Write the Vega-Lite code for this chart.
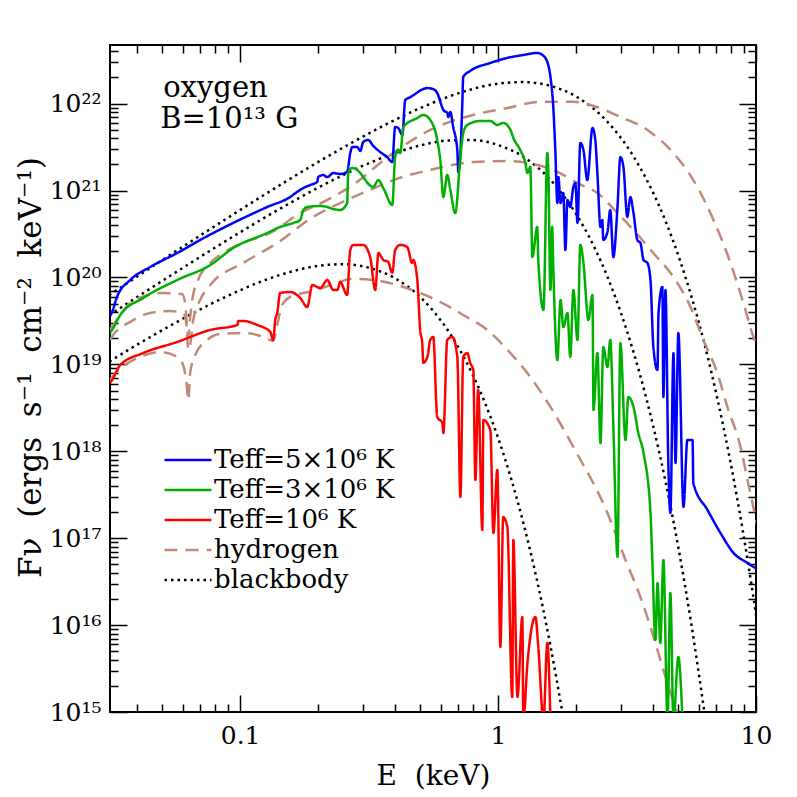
{
"$schema":"https://vega.github.io/schema/vega-lite/v6.json",
"width":646,"height":667,
"autosize":{"type":"none"},
"padding":{"left":110,"top":45,"right":41,"bottom":85},
"background":"white",
"config":{"view":{"stroke":"black","strokeWidth":2},"font":"DejaVu Serif",
 "legend":{"symbolType":"M-2.35,0H2.35","symbolSize":400,"symbolOffset":12,"labelOffset":13,"rowPadding":4,"symbolStrokeWidth":2.5,"labelFont":"DejaVu Serif","labelFontSize":26,"labelColor":"black","padding":0,"labelLimit":400}},
"datasets":{
"names":[{"c":"O5","s":"Teff=5×10⁶ K"},{"c":"O3","s":"Teff=3×10⁶ K"},{"c":"O1","s":"Teff=10⁶ K"},{"c":"H5","s":"hydrogen"},{"c":"H3","s":"hydrogen"},{"c":"H1","s":"hydrogen"},{"c":"B5","s":"blackbody"},{"c":"B3","s":"blackbody"},{"c":"B1","s":"blackbody"}],
"notes":[{"E":0.0503,"F":1.19e22,"t":"oxygen"},{"E":0.049,"F":5.25e21,"t":"B=10¹³ G"}],
"frame":[{"E":1,"F":1e18}],
"curves":[
{"c":"B5","E":0.02818,"F":5.18e19},{"c":"B5","E":0.03162,"F":6.49e19},{"c":"B5","E":0.03981,"F":1.02e20},{"c":"B5","E":0.05012,"F":1.60e20},{"c":"B5","E":0.0631,"F":2.49e20},{"c":"B5","E":0.07943,"F":3.86e20},{"c":"B5","E":0.1,"F":5.98e20},{"c":"B5","E":0.1259,"F":9.18e20},{"c":"B5","E":0.1585,"F":1.40e21},{"c":"B5","E":0.1995,"F":2.11e21},{"c":"B5","E":0.2512,"F":3.13e21},{"c":"B5","E":0.3162,"F":4.56e21},{"c":"B5","E":0.3981,"F":6.49e21},{"c":"B5","E":0.5012,"F":8.93e21},{"c":"B5","E":0.631,"F":1.18e22},{"c":"B5","E":0.7943,"F":1.47e22},{"c":"B5","E":1.0,"F":1.70e22},{"c":"B5","E":1.259,"F":1.77e22},{"c":"B5","E":1.585,"F":1.61e22},{"c":"B5","E":1.995,"F":1.22e22},{"c":"B5","E":2.512,"F":7.31e21},{"c":"B5","E":2.818,"F":5.06e21},{"c":"B5","E":3.162,"F":3.22e21},{"c":"B5","E":3.548,"F":1.85e21},{"c":"B5","E":3.981,"F":9.62e20},{"c":"B5","E":4.467,"F":4.40e20},{"c":"B5","E":5.012,"F":1.75e20},{"c":"B5","E":5.623,"F":5.98e19},{"c":"B5","E":6.31,"F":1.73e19},{"c":"B5","E":7.079,"F":4.07e18},{"c":"B5","E":7.943,"F":7.78e17},{"c":"B5","E":8.913,"F":1.16e17},{"c":"B5","E":10.0,"F":1.32e16},{"c":"B5","E":11.22,"F":1.10e15},
{"c":"B3","E":0.02818,"F":3.04e19},{"c":"B3","E":0.03162,"F":3.80e19},{"c":"B3","E":0.03981,"F":5.93e19},{"c":"B3","E":0.05012,"F":9.20e19},{"c":"B3","E":0.0631,"F":1.42e20},{"c":"B3","E":0.07943,"F":2.18e20},{"c":"B3","E":0.1,"F":3.31e20},{"c":"B3","E":0.1259,"F":4.98e20},{"c":"B3","E":0.1585,"F":7.36e20},{"c":"B3","E":0.1995,"F":1.07e21},{"c":"B3","E":0.2512,"F":1.51e21},{"c":"B3","E":0.3162,"F":2.07e21},{"c":"B3","E":0.3981,"F":2.70e21},{"c":"B3","E":0.5012,"F":3.31e21},{"c":"B3","E":0.631,"F":3.75e21},{"c":"B3","E":0.7943,"F":3.81e21},{"c":"B3","E":1.0,"F":3.34e21},{"c":"B3","E":1.259,"F":2.42e21},{"c":"B3","E":1.585,"F":1.36e21},{"c":"B3","E":1.778,"F":9.07e20},{"c":"B3","E":1.995,"F":5.53e20},{"c":"B3","E":2.239,"F":3.05e20},{"c":"B3","E":2.512,"F":1.50e20},{"c":"B3","E":2.818,"F":6.46e19},{"c":"B3","E":3.162,"F":2.41e19},{"c":"B3","E":3.548,"F":7.66e18},{"c":"B3","E":3.981,"F":2.03e18},{"c":"B3","E":4.467,"F":4.37e17},{"c":"B3","E":5.012,"F":7.50e16},{"c":"B3","E":5.623,"F":9.93e15},{"c":"B3","E":6.31,"F":9.89e14},
{"c":"B1","E":0.02818,"F":9.04e18},{"c":"B1","E":0.03162,"F":1.11e19},{"c":"B1","E":0.03981,"F":1.68e19},{"c":"B1","E":0.05012,"F":2.49e19},{"c":"B1","E":0.0631,"F":3.64e19},{"c":"B1","E":0.07943,"F":5.18e19},{"c":"B1","E":0.1,"F":7.13e19},{"c":"B1","E":0.1259,"F":9.42e19},{"c":"B1","E":0.1585,"F":1.17e20},{"c":"B1","E":0.1995,"F":1.36e20},{"c":"B1","E":0.2512,"F":1.42e20},{"c":"B1","E":0.3162,"F":1.29e20},{"c":"B1","E":0.3981,"F":9.82e19},{"c":"B1","E":0.5012,"F":5.89e19},{"c":"B1","E":0.5623,"F":4.07e19},{"c":"B1","E":0.631,"F":2.60e19},{"c":"B1","E":0.7079,"F":1.50e19},{"c":"B1","E":0.7943,"F":7.80e18},{"c":"B1","E":0.8913,"F":3.57e18},{"c":"B1","E":1.0,"F":1.43e18},{"c":"B1","E":1.122,"F":4.90e17},{"c":"B1","E":1.259,"F":1.42e17},{"c":"B1","E":1.413,"F":3.37e16},{"c":"B1","E":1.585,"F":6.44e15},{"c":"B1","E":1.778,"F":9.66e14},
{"c":"H5","E":0.0313,"F":2.49e19},{"c":"H5","E":0.0343,"F":3.70e19},{"c":"H5","E":0.0375,"F":5.08e19},{"c":"H5","E":0.0428,"F":6.12e19},{"c":"H5","E":0.0504,"F":6.62e19},{"c":"H5","E":0.0596,"F":6.46e19},{"c":"H5","E":0.0612,"F":5.08e19},{"c":"H5","E":0.0624,"F":2.49e19},{"c":"H5","E":0.0630,"F":2.07e19},{"c":"H5","E":0.0640,"F":3.42e19},{"c":"H5","E":0.0652,"F":5.51e19},{"c":"H5","E":0.0687,"F":9.35e19},{"c":"H5","E":0.0766,"F":1.47e20},{"c":"H5","E":0.0837,"F":1.82e20},{"c":"H5","E":0.100,"F":2.43e20},{"c":"H5","E":0.1309,"F":3.25e20},{"c":"H5","E":0.1710,"F":5.52e20},{"c":"H5","E":0.2178,"F":7.80e20},{"c":"H5","E":0.2844,"F":1.26e21},{"c":"H5","E":0.3491,"F":2.08e21},{"c":"H5","E":0.4178,"F":3.09e21},{"c":"H5","E":0.5458,"F":4.98e21},{"c":"H5","E":0.8017,"F":7.41e21},{"c":"H5","E":1.086,"F":8.91e21},{"c":"H5","E":1.459,"F":1.05e22},{"c":"H5","E":1.959,"F":1.05e22},{"c":"H5","E":2.280,"F":9.67e21},{"c":"H5","E":2.979,"F":7.03e21},{"c":"H5","E":3.793,"F":4.98e21},{"c":"H5","E":4.786,"F":2.70e21},{"c":"H5","E":5.715,"F":1.32e21},{"c":"H5","E":6.839,"F":4.59e20},{"c":"H5","E":7.962,"F":1.47e20},{"c":"H5","E":8.933,"F":5.08e19},{"c":"H5","E":9.772,"F":2.07e19},{"c":"H5","E":10.4,"F":1.28e19},
{"c":"H3","E":0.0313,"F":1.91e19},{"c":"H3","E":0.0322,"F":2.18e19},{"c":"H3","E":0.0375,"F":3.08e19},{"c":"H3","E":0.0448,"F":3.90e19},{"c":"H3","E":0.0536,"F":4.11e19},{"c":"H3","E":0.0601,"F":3.90e19},{"c":"H3","E":0.0618,"F":3.08e19},{"c":"H3","E":0.0630,"F":1.47e19},{"c":"H3","E":0.0640,"F":1.67e19},{"c":"H3","E":0.0658,"F":3.24e19},{"c":"H3","E":0.0700,"F":5.51e19},{"c":"H3","E":0.0766,"F":8.19e19},{"c":"H3","E":0.1028,"F":1.47e20},{"c":"H3","E":0.1393,"F":2.49e20},{"c":"H3","E":0.1919,"F":4.97e20},{"c":"H3","E":0.2443,"F":7.19e20},{"c":"H3","E":0.3192,"F":1.02e21},{"c":"H3","E":0.3926,"F":1.32e21},{"c":"H3","E":0.5458,"F":1.73e21},{"c":"H3","E":0.8017,"F":2.13e21},{"c":"H3","E":1.086,"F":2.19e21},{"c":"H3","E":1.300,"F":2.08e21},{"c":"H3","E":1.698,"F":1.64e21},{"c":"H3","E":2.032,"F":1.22e21},{"c":"H3","E":2.427,"F":9.38e20},{"c":"H3","E":2.904,"F":5.52e20},{"c":"H3","E":3.350,"F":3.52e20},{"c":"H3","E":4.000,"F":1.91e20},{"c":"H3","E":4.786,"F":1.01e20},{"c":"H3","E":5.572,"F":4.57e19},{"c":"H3","E":6.252,"F":1.91e19},{"c":"H3","E":7.079,"F":7.96e18},{"c":"H3","E":7.745,"F":3.24e18},{"c":"H3","E":8.710,"F":1.12e18},{"c":"H3","E":9.268,"F":4.68e17},{"c":"H3","E":10.14,"F":1.35e17},
{"c":"H1","E":0.0313,"F":6.61e18},{"c":"H1","E":0.0319,"F":7.16e18},{"c":"H1","E":0.0358,"F":9.84e18},{"c":"H1","E":0.0409,"F":1.22e19},{"c":"H1","E":0.0490,"F":1.39e19},{"c":"H1","E":0.0570,"F":1.22e19},{"c":"H1","E":0.0601,"F":9.84e18},{"c":"H1","E":0.0618,"F":6.61e18},{"c":"H1","E":0.0630,"F":3.89e18},{"c":"H1","E":0.0640,"F":7.96e18},{"c":"H1","E":0.0670,"F":1.28e19},{"c":"H1","E":0.0745,"F":1.91e19},{"c":"H1","E":0.0837,"F":2.24e19},{"c":"H1","E":0.1028,"F":2.30e19},{"c":"H1","E":0.1164,"F":2.18e19},{"c":"H1","E":0.1309,"F":1.91e19},{"c":"H1","E":0.1343,"F":1.86e19},{"c":"H1","E":0.1393,"F":2.84e19},{"c":"H1","E":0.1455,"F":4.82e19},{"c":"H1","E":0.1563,"F":5.96e19},{"c":"H1","E":0.1919,"F":7.00e19},{"c":"H1","E":0.2382,"F":8.65e19},{"c":"H1","E":0.2673,"F":9.62e19},{"c":"H1","E":0.3281,"F":9.35e19},{"c":"H1","E":0.4064,"F":8.19e19},{"c":"H1","E":0.4864,"F":6.81e19},{"c":"H1","E":0.5970,"F":5.22e19},{"c":"H1","E":0.7328,"F":3.70e19},{"c":"H1","E":0.9078,"F":2.49e19},{"c":"H1","E":1.117,"F":1.35e19},{"c":"H1","E":1.334,"F":7.16e18},{"c":"H1","E":1.596,"F":3.24e18},{"c":"H1","E":1.875,"F":1.42e18},{"c":"H1","E":1.959,"F":1.12e18},{"c":"H1","E":2.655,"F":1.95e17},{"c":"H1","E":3.119,"F":5.61e16},{"c":"H1","E":3.565,"F":2.10e16},{"c":"H1","E":3.899,"F":9.51e15},{"c":"H1","E":4.375,"F":3.04e15},{"c":"H1","E":4.920,"F":1.0e15},{"c":"H1","E":5.093,"F":7.1e14},
{"c":"O5","E":0.0313,"F":3.61e19},{"c":"O5","E":0.0319,"F":4.01e19},{"c":"O5","E":0.0333,"F":5.96e19},{"c":"O5","E":0.0375,"F":9.35e19},{"c":"O5","E":0.0448,"F":1.32e20},{"c":"O5","E":0.0570,"F":1.91e20},{"c":"O5","E":0.0700,"F":2.70e20},{"c":"O5","E":0.0940,"F":4.24e20},{"c":"O5","E":0.1274,"F":6.47e20},{"c":"O5","E":0.1563,"F":8.43e20},{"c":"O5","E":0.1663,"F":9.64e20},{"c":"O5","E":0.1758,"F":1.07e21},{"c":"O5","E":0.1871,"F":1.16e21},{"c":"O5","E":0.1991,"F":1.26e21},{"c":"O5","E":0.2009,"F":1.43e21},{"c":"O5","E":0.2099,"F":1.51e21},{"c":"O5","E":0.2178,"F":1.43e21},{"c":"O5","E":0.2296,"F":1.59e21},{"c":"O5","E":0.2443,"F":1.55e21},{"c":"O5","E":0.2600,"F":1.64e21},{"c":"O5","E":0.2673,"F":2.70e21},{"c":"O5","E":0.2723,"F":3.17e21},{"c":"O5","E":0.2844,"F":3.17e21},{"c":"O5","E":0.2924,"F":2.85e21},{"c":"O5","E":0.2999,"F":3.62e21},{"c":"O5","E":0.3141,"F":3.82e21},{"c":"O5","E":0.3281,"F":3.26e21},{"c":"O5","E":0.3491,"F":2.78e21},{"c":"O5","E":0.3715,"F":2.43e21},{"c":"O5","E":0.3890,"F":2.13e21},{"c":"O5","E":0.3990,"F":5.40e21},{"c":"O5","E":0.4102,"F":5.25e21},{"c":"O5","E":0.4256,"F":4.36e21},{"c":"O5","E":0.4365,"F":1.10e22},{"c":"O5","E":0.4571,"F":1.19e22},{"c":"O5","E":0.5321,"F":1.51e22},{"c":"O5","E":0.5610,"F":1.47e22},{"c":"O5","E":0.5808,"F":1.33e22},{"c":"O5","E":0.6138,"F":8.45e21},{"c":"O5","E":0.6353,"F":7.82e21},{"c":"O5","E":0.6412,"F":7.03e21},{"c":"O5","E":0.6531,"F":8.02e21},{"c":"O5","E":0.6699,"F":5.40e21},{"c":"O5","E":0.6950,"F":2.93e21},{"c":"O5","E":0.7015,"F":1.64e21},{"c":"O5","E":0.7145,"F":2.70e21},{"c":"O5","E":0.7261,"F":9.16e21},{"c":"O5","E":0.7328,"F":2.03e22},{"c":"O5","E":0.7798,"F":2.38e22},{"c":"O5","E":0.9333,"F":2.94e22},{"c":"O5","E":1.086,"F":3.36e22},{"c":"O5","E":1.253,"F":3.63e22},{"c":"O5","E":1.419,"F":3.83e22},{"c":"O5","E":1.486,"F":3.63e22},{"c":"O5","E":1.552,"F":3.02e22},{"c":"O5","E":1.596,"F":2.03e22},{"c":"O5","E":1.637,"F":9.16e21},{"c":"O5","E":1.667,"F":2.93e21},{"c":"O5","E":1.698,"F":7.19e20},{"c":"O5","E":1.714,"F":1.43e21},{"c":"O5","E":1.746,"F":7.19e20},{"c":"O5","E":1.791,"F":9.38e20},{"c":"O5","E":1.824,"F":2.07e20},{"c":"O5","E":1.858,"F":7.80e20},{"c":"O5","E":1.905,"F":6.47e20},{"c":"O5","E":1.959,"F":1.10e21},{"c":"O5","E":1.995,"F":1.22e21},{"c":"O5","E":2.032,"F":4.24e20},{"c":"O5","E":2.084,"F":3.52e21},{"c":"O5","E":2.143,"F":2.93e21},{"c":"O5","E":2.218,"F":1.32e21},{"c":"O5","E":2.323,"F":5.25e21},{"c":"O5","E":2.382,"F":3.82e21},{"c":"O5","E":2.427,"F":1.59e21},{"c":"O5","E":2.495,"F":3.81e20},{"c":"O5","E":2.535,"F":4.59e20},{"c":"O5","E":2.559,"F":2.70e20},{"c":"O5","E":2.655,"F":3.34e20},{"c":"O5","E":2.723,"F":5.98e20},{"c":"O5","E":2.799,"F":1.72e20},{"c":"O5","E":2.904,"F":6.47e20},{"c":"O5","E":2.979,"F":2.43e21},{"c":"O5","E":3.062,"F":1.87e21},{"c":"O5","E":3.170,"F":4.97e20},{"c":"O5","E":3.258,"F":8.43e20},{"c":"O5","E":3.350,"F":5.52e20},{"c":"O5","E":3.467,"F":2.70e20},{"c":"O5","E":3.565,"F":2.49e20},{"c":"O5","E":3.664,"F":1.59e20},{"c":"O5","E":3.793,"F":1.47e20},{"c":"O5","E":3.899,"F":9.35e19},{"c":"O5","E":4.000,"F":1.58e19},{"c":"O5","E":4.150,"F":8.61e18},{"c":"O5","E":4.188,"F":3.90e19},{"c":"O5","E":4.335,"F":7.78e19},{"c":"O5","E":4.375,"F":4.22e18},{"c":"O5","E":4.457,"F":7.18e19},{"c":"O5","E":4.571,"F":7.33e17},{"c":"O5","E":4.656,"F":1.95e17},{"c":"O5","E":4.786,"F":1.35e19},{"c":"O5","E":4.875,"F":7.33e17},{"c":"O5","E":5.000,"F":2.30e19},{"c":"O5","E":5.236,"F":2.29e17},{"c":"O5","E":5.420,"F":1.35e18},{"c":"O5","E":5.675,"F":1.35e18},{"c":"O5","E":5.715,"F":4.31e17},{"c":"O5","E":6.486,"F":2.11e17},{"c":"O5","E":7.278,"F":1.15e17},{"c":"O5","E":8.185,"F":6.76e16},{"c":"O5","E":9.268,"F":5.19e16},{"c":"O5","E":9.954,"F":4.54e16},{"c":"O5","E":10.4,"F":4.31e16},
{"c":"O3","E":0.0313,"F":2.30e19},{"c":"O3","E":0.0319,"F":2.49e19},{"c":"O3","E":0.0343,"F":3.70e19},{"c":"O3","E":0.0421,"F":5.81e19},{"c":"O3","E":0.0570,"F":9.35e19},{"c":"O3","E":0.0766,"F":1.39e20},{"c":"O3","E":0.0940,"F":2.18e20},{"c":"O3","E":0.1274,"F":3.25e20},{"c":"O3","E":0.1429,"F":3.81e20},{"c":"O3","E":0.1607,"F":4.24e20},{"c":"O3","E":0.1710,"F":4.59e20},{"c":"O3","E":0.1758,"F":5.98e20},{"c":"O3","E":0.1820,"F":6.47e20},{"c":"O3","E":0.2046,"F":6.64e20},{"c":"O3","E":0.2178,"F":6.47e20},{"c":"O3","E":0.2296,"F":6.14e20},{"c":"O3","E":0.2443,"F":5.98e20},{"c":"O3","E":0.2600,"F":7.19e20},{"c":"O3","E":0.2624,"F":1.59e21},{"c":"O3","E":0.2723,"F":1.82e21},{"c":"O3","E":0.2924,"F":1.59e21},{"c":"O3","E":0.2999,"F":1.43e21},{"c":"O3","E":0.3281,"F":1.10e21},{"c":"O3","E":0.3436,"F":1.32e21},{"c":"O3","E":0.3589,"F":1.07e21},{"c":"O3","E":0.3890,"F":6.82e20},{"c":"O3","E":0.3990,"F":2.43e21},{"c":"O3","E":0.4102,"F":2.93e21},{"c":"O3","E":0.4178,"F":2.70e21},{"c":"O3","E":0.4295,"F":5.40e21},{"c":"O3","E":0.4864,"F":6.84e21},{"c":"O3","E":0.5129,"F":7.41e21},{"c":"O3","E":0.5458,"F":6.49e21},{"c":"O3","E":0.5808,"F":3.82e21},{"c":"O3","E":0.5970,"F":2.25e21},{"c":"O3","E":0.6138,"F":8.43e20},{"c":"O3","E":0.6353,"F":1.51e21},{"c":"O3","E":0.6531,"F":1.02e21},{"c":"O3","E":0.6823,"F":5.52e20},{"c":"O3","E":0.7145,"F":2.43e21},{"c":"O3","E":0.7328,"F":4.60e21},{"c":"O3","E":0.7603,"F":5.69e21},{"c":"O3","E":0.8531,"F":6.32e21},{"c":"O3","E":0.9333,"F":6.32e21},{"c":"O3","E":0.9931,"F":5.69e21},{"c":"O3","E":1.047,"F":6.00e21},{"c":"O3","E":1.117,"F":4.98e21},{"c":"O3","E":1.146,"F":4.03e21},{"c":"O3","E":1.219,"F":2.93e21},{"c":"O3","E":1.276,"F":2.08e21},{"c":"O3","E":1.300,"F":1.59e21},{"c":"O3","E":1.334,"F":1.87e21},{"c":"O3","E":1.358,"F":1.72e20},{"c":"O3","E":1.419,"F":3.81e20},{"c":"O3","E":1.432,"F":1.59e20},{"c":"O3","E":1.500,"F":4.23e19},{"c":"O3","E":1.552,"F":2.70e21},{"c":"O3","E":1.567,"F":1.59e21},{"c":"O3","E":1.596,"F":7.18e19},{"c":"O3","E":1.622,"F":3.81e20},{"c":"O3","E":1.637,"F":1.32e20},{"c":"O3","E":1.698,"F":1.12e19},{"c":"O3","E":1.746,"F":5.51e19},{"c":"O3","E":1.791,"F":2.69e19},{"c":"O3","E":1.858,"F":3.90e19},{"c":"O3","E":1.905,"F":1.22e19},{"c":"O3","E":1.959,"F":7.18e19},{"c":"O3","E":2.032,"F":1.91e19},{"c":"O3","E":2.084,"F":2.37e20},{"c":"O3","E":2.143,"F":1.47e20},{"c":"O3","E":2.239,"F":3.24e19},{"c":"O3","E":2.323,"F":6.28e19},{"c":"O3","E":2.344,"F":2.99e18},{"c":"O3","E":2.427,"F":1.35e19},{"c":"O3","E":2.495,"F":1.24e18},{"c":"O3","E":2.559,"F":1.58e19},{"c":"O3","E":2.655,"F":9.33e18},{"c":"O3","E":2.723,"F":1.91e19},{"c":"O3","E":2.799,"F":1.91e18},{"c":"O3","E":2.904,"F":6.08e16},{"c":"O3","E":2.979,"F":1.76e19},{"c":"O3","E":3.119,"F":1.35e18},{"c":"O3","E":3.199,"F":4.22e18},{"c":"O3","E":3.350,"F":3.24e18},{"c":"O3","E":3.499,"F":1.62e18},{"c":"O3","E":3.664,"F":9.55e17},{"c":"O3","E":3.899,"F":1.95e17},{"c":"O3","E":3.963,"F":5.61e16},{"c":"O3","E":4.074,"F":6.73e15},{"c":"O3","E":4.150,"F":3.05e16},{"c":"O3","E":4.256,"F":6.22e15},{"c":"O3","E":4.375,"F":5.61e16},{"c":"O3","E":4.539,"F":8e14},{"c":"O3","E":4.656,"F":2.34e16},{"c":"O3","E":4.786,"F":8e14},{"c":"O3","E":5.000,"F":4.30e15},{"c":"O3","E":5.188,"F":8e14},
{"c":"O1","E":0.0313,"F":6.11e18},{"c":"O1","E":0.0319,"F":6.61e18},{"c":"O1","E":0.0343,"F":9.84e18},{"c":"O1","E":0.0421,"F":1.35e19},{"c":"O1","E":0.0570,"F":1.81e19},{"c":"O1","E":0.0766,"F":2.49e19},{"c":"O1","E":0.0975,"F":2.84e19},{"c":"O1","E":0.0984,"F":3.16e19},{"c":"O1","E":0.1028,"F":3.16e19},{"c":"O1","E":0.1164,"F":2.84e19},{"c":"O1","E":0.1309,"F":2.36e19},{"c":"O1","E":0.1343,"F":1.91e19},{"c":"O1","E":0.1368,"F":3.24e19},{"c":"O1","E":0.1393,"F":3.90e19},{"c":"O1","E":0.1429,"F":6.62e19},{"c":"O1","E":0.1563,"F":6.81e19},{"c":"O1","E":0.1710,"F":5.81e19},{"c":"O1","E":0.1820,"F":4.57e19},{"c":"O1","E":0.1905,"F":8.19e19},{"c":"O1","E":0.2046,"F":7.57e19},{"c":"O1","E":0.2178,"F":9.35e19},{"c":"O1","E":0.2296,"F":7.18e19},{"c":"O1","E":0.2382,"F":7.18e19},{"c":"O1","E":0.2443,"F":8.87e19},{"c":"O1","E":0.2600,"F":6.28e19},{"c":"O1","E":0.2673,"F":2.07e20},{"c":"O1","E":0.2748,"F":2.37e20},{"c":"O1","E":0.2999,"F":2.37e20},{"c":"O1","E":0.3192,"F":1.72e20},{"c":"O1","E":0.3342,"F":7.18e19},{"c":"O1","E":0.3436,"F":1.91e20},{"c":"O1","E":0.3589,"F":1.59e20},{"c":"O1","E":0.3750,"F":1.51e20},{"c":"O1","E":0.3890,"F":1.13e20},{"c":"O1","E":0.3990,"F":2.07e20},{"c":"O1","E":0.4178,"F":2.37e20},{"c":"O1","E":0.4446,"F":2.24e20},{"c":"O1","E":0.4645,"F":1.47e20},{"c":"O1","E":0.4688,"F":1.59e20},{"c":"O1","E":0.4864,"F":9.35e19},{"c":"O1","E":0.4909,"F":5.96e19},{"c":"O1","E":0.4989,"F":2.49e19},{"c":"O1","E":0.5082,"F":1.76e19},{"c":"O1","E":0.5129,"F":1.04e19},{"c":"O1","E":0.5321,"F":1.22e19},{"c":"O1","E":0.5458,"F":1.91e19},{"c":"O1","E":0.5610,"F":2.07e19},{"c":"O1","E":0.5808,"F":2.48e18},{"c":"O1","E":0.6081,"F":2.12e18},{"c":"O1","E":0.6138,"F":1.62e18},{"c":"O1","E":0.6353,"F":1.91e19},{"c":"O1","E":0.6653,"F":2.07e19},{"c":"O1","E":0.6950,"F":1.22e19},{"c":"O1","E":0.7145,"F":2.98e17},{"c":"O1","E":0.7328,"F":1.22e19},{"c":"O1","E":0.7603,"F":1.35e19},{"c":"O1","E":0.7798,"F":1.04e19},{"c":"O1","E":0.8017,"F":8.61e18},{"c":"O1","E":0.8166,"F":4.68e17},{"c":"O1","E":0.8375,"F":5.07e18},{"c":"O1","E":0.8690,"F":1.24e17},{"c":"O1","E":0.8770,"F":2.29e18},{"c":"O1","E":0.9333,"F":1.76e18},{"c":"O1","E":0.9594,"F":1.15e17},{"c":"O1","E":0.9931,"F":6.10e17},{"c":"O1","E":1.021,"F":5.60e15},{"c":"O1","E":1.047,"F":1.75e17},{"c":"O1","E":1.086,"F":1.35e17},{"c":"O1","E":1.135,"F":1.49e15},{"c":"O1","E":1.146,"F":9.53e16},{"c":"O1","E":1.189,"F":1.49e15},{"c":"O1","E":1.242,"F":1.24e16},{"c":"O1","E":1.253,"F":8e14},{"c":"O1","E":1.300,"F":3.66e15},{"c":"O1","E":1.396,"F":1.24e16},{"c":"O1","E":1.432,"F":5.60e15},{"c":"O1","E":1.500,"F":8e14},{"c":"O1","E":1.552,"F":6.22e15},{"c":"O1","E":1.596,"F":8e14}
]},
"layer":[
{"data":{"name":"curves"},
 "transform":[{"lookup":"c","from":{"data":{"name":"names"},"key":"c","fields":["s"]}}],
 "mark":{"type":"line","strokeWidth":2.5,"clip":true,"interpolate":"monotone","strokeCap":"butt"},
 "encoding":{
  "x":{"field":"E","type":"quantitative","scale":{"type":"log","domain":[0.0313,10],"nice":false},
   "axis":{"orient":"bottom","title":"E\u00a0\u00a0(keV)","values":[0.04,0.05,0.06,0.07,0.08,0.09,0.1,0.2,0.3,0.4,0.5,0.6,0.7,0.8,0.9,1,2,3,4,5,6,7,8,9,10],
    "labelExpr":"datum.value==0.1?'0.1':datum.value==1?'1':datum.value==10?'10':''",
    "tickSize":{"condition":{"test":"indexof([0.1,1,10], datum.value) >= 0","value":-17},"value":-8},
    "tickColor":"black","tickWidth":1.5,"domain":false,"grid":false,"labelFont":"DejaVu Serif","labelFontSize":25,"labelColor":"black","labelPadding":28,"labelFlush":false,"labelOverlap":false,"labelBound":false,
    "titleFont":"DejaVu Serif","titleFontSize":28,"titleFontWeight":"normal","titleColor":"black","titleX":323,"titleY":72,"titleBaseline":"alphabetic"}},
  "y":{"field":"F","type":"quantitative","scale":{"type":"log","domain":[1e15,4.73e22],"nice":false},
   "axis":{"orient":"left","title":"Fν\u00a0\u00a0(ergs\u00a0\u00a0s⁻¹\u00a0\u00a0cm⁻²\u00a0\u00a0keV⁻¹)","values":[1e15,2e15,3e15,4e15,5e15,6e15,7e15,8e15,9e15,1e16,2e16,3e16,4e16,5e16,6e16,7e16,8e16,9e16,1e17,2e17,3e17,4e17,5e17,6e17,7e17,8e17,9e17,1e18,2e18,3e18,4e18,5e18,6e18,7e18,8e18,9e18,1e19,2e19,3e19,4e19,5e19,6e19,7e19,8e19,9e19,1e20,2e20,3e20,4e20,5e20,6e20,7e20,8e20,9e20,1e21,2e21,3e21,4e21,5e21,6e21,7e21,8e21,9e21,1e22,2e22,3e22,4e22],
    "labelExpr":"datum.value==1e15?'10¹⁵':datum.value==1e16?'10¹⁶':datum.value==1e17?'10¹⁷':datum.value==1e18?'10¹⁸':datum.value==1e19?'10¹⁹':datum.value==1e20?'10²⁰':datum.value==1e21?'10²¹':datum.value==1e22?'10²²':''",
    "tickSize":{"condition":{"test":"indexof([1e15,1e16,1e17,1e18,1e19,1e20,1e21,1e22], datum.value) >= 0","value":-17},"value":-8},
    "tickColor":"black","tickWidth":1.5,"domain":false,"grid":false,"labelFont":"DejaVu Serif","labelFontSize":25,"labelColor":"black","labelPadding":26,"labelFlush":false,"labelOverlap":false,"labelBound":false,
    "titleFont":"DejaVu Serif","titleFontSize":31,"titleFontWeight":"normal","titleColor":"black","titleX":-70,"titleY":322,"titleAngle":-90,"titleBaseline":"alphabetic","titleAlign":"center"}},
  "color":{"field":"s","type":"nominal","scale":{"domain":["Teff=5×10⁶ K","Teff=3×10⁶ K","Teff=10⁶ K","hydrogen","blackbody"],"range":["#0000ff","#00b000","#ff0000","#c08a7a","#000000"]},
   "legend":{"orient":"none","legendX":53,"legendY":402,"title":null}},
  "strokeDash":{"field":"s","type":"nominal","scale":{"domain":["Teff=5×10⁶ K","Teff=3×10⁶ K","Teff=10⁶ K","hydrogen","blackbody"],"range":[[1,0],[1,0],[1,0],[13,8],[2.5,4]]},
   "legend":{"orient":"none","legendX":53,"legendY":402,"title":null}},
  "detail":{"field":"c"}
 }},
{"data":{"name":"notes"},
 "mark":{"type":"text","align":"left","baseline":"alphabetic","fontSize":29,"font":"DejaVu Serif","color":"black"},
 "encoding":{
  "x":{"field":"E","type":"quantitative","scale":{"type":"log","domain":[0.0313,10],"nice":false},"axis":null},
  "y":{"field":"F","type":"quantitative","scale":{"type":"log","domain":[1e15,4.73e22],"nice":false},"axis":null},
  "text":{"field":"t"}}},
{"data":{"name":"frame"},
 "mark":{"type":"point","opacity":0},
 "encoding":{
  "x":{"field":"E","type":"quantitative","scale":{"type":"log","domain":[0.0313,10],"nice":false},
   "axis":{"orient":"top","title":null,"labels":false,"domain":false,"grid":false,"values":[0.04,0.05,0.06,0.07,0.08,0.09,0.1,0.2,0.3,0.4,0.5,0.6,0.7,0.8,0.9,1,2,3,4,5,6,7,8,9,10],
    "tickSize":{"condition":{"test":"indexof([0.1,1,10], datum.value) >= 0","value":-17},"value":-8},"tickColor":"black","tickWidth":1.5}},
  "y":{"field":"F","type":"quantitative","scale":{"type":"log","domain":[1e15,4.73e22],"nice":false},
   "axis":{"orient":"right","title":null,"labels":false,"domain":false,"grid":false,"values":[1e15,2e15,3e15,4e15,5e15,6e15,7e15,8e15,9e15,1e16,2e16,3e16,4e16,5e16,6e16,7e16,8e16,9e16,1e17,2e17,3e17,4e17,5e17,6e17,7e17,8e17,9e17,1e18,2e18,3e18,4e18,5e18,6e18,7e18,8e18,9e18,1e19,2e19,3e19,4e19,5e19,6e19,7e19,8e19,9e19,1e20,2e20,3e20,4e20,5e20,6e20,7e20,8e20,9e20,1e21,2e21,3e21,4e21,5e21,6e21,7e21,8e21,9e21,1e22,2e22,3e22,4e22],
    "tickSize":{"condition":{"test":"indexof([1e15,1e16,1e17,1e18,1e19,1e20,1e21,1e22], datum.value) >= 0","value":-17},"value":-8},"tickColor":"black","tickWidth":1.5}}
 }}
],
"resolve":{"axis":{"x":"independent","y":"independent"}}
}
